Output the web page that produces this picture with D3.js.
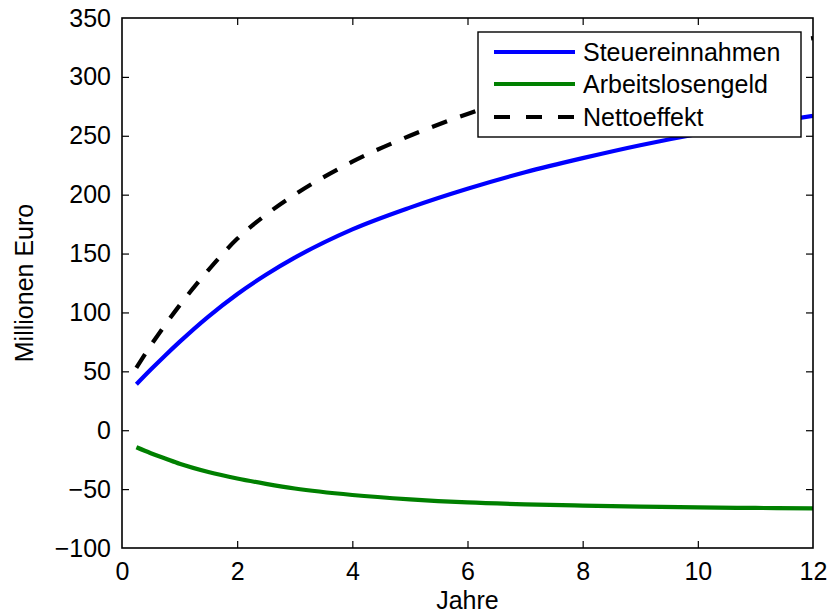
<!DOCTYPE html>
<html>
<head>
<meta charset="utf-8">
<script src="https://cdn.jsdelivr.net/npm/d3@7"></script>
<style>
  html, body { margin: 0; padding: 0; background: #fff; }
  svg text { font-family: "Liberation Sans", Arial, sans-serif; fill: #000; }
</style>
</head>
<body>
<svg id="chart" width="829" height="615"></svg>
<script>
// Years after the measure takes effect
const years = [0.25, 0.5, 0.75, 1, 1.5, 2, 2.5, 3, 4, 5, 6, 7, 8, 9, 10, 11, 12];

// Series in million euro
const steuereinnahmen  = [39, 51.5, 63.5, 75, 96.5, 115.5, 132, 146.5, 170.5, 189, 205, 219, 231, 242, 251.5, 259.5, 267];
const arbeitslosengeld = [-14.5, -19.5, -24, -28.5, -35.5, -41, -45.5, -49.5, -55, -58.7, -61.3, -62.9, -64, -64.8, -65.5, -66, -66.3];
const nettoeffekt      = [53, 72, 89.5, 106, 136, 162.5, 183, 200, 228, 250, 268.5, 283.5, 296.5, 307.5, 317, 325.5, 333];

const seriesNames = ["Steuereinnahmen", "Arbeitslosengeld", "Nettoeffekt"];
const seriesColors = ["#0000ff", "#008000", "#000000"];
const seriesDash = [null, null, "16,14"];

const xTicks = [0, 2, 4, 6, 8, 10, 12];
const yTicks = [-100, -50, 0, 50, 100, 150, 200, 250, 300, 350];
const xLabel = "Jahre";
const yLabel = "Millionen Euro";

const svg = d3.select("#chart");
const margin = { left: 122, top: 18, right: 16, bottom: 67 };
const W = 829, H = 615;
const x0 = margin.left, x1 = W - margin.right;
const y0 = H - margin.bottom, y1 = margin.top;

const x = d3.scaleLinear().domain([0, 12]).range([x0, x1]);
const y = d3.scaleLinear().domain([-100, 350]).range([y0, y1]);

const tickLen = 7;
const fontSize = 25;
const legendFont = 25;

// Axes: ticks point inward on all four sides (boxed frame)
const gBottom = svg.append("g").attr("transform", `translate(0,${y0})`)
  .call(d3.axisBottom(x).tickValues(xTicks).tickSizeInner(-tickLen).tickSizeOuter(0).tickPadding(14)
    .tickFormat(d3.format("d")));
const gTop = svg.append("g").attr("transform", `translate(0,${y1})`)
  .call(d3.axisTop(x).tickValues(xTicks).tickSizeInner(-tickLen).tickSizeOuter(0).tickFormat(""));
const gLeft = svg.append("g").attr("transform", `translate(${x0},0)`)
  .call(d3.axisLeft(y).tickValues(yTicks).tickSizeInner(-tickLen).tickSizeOuter(0).tickPadding(11)
    .tickFormat(d => d < 0 ? "\u2212" + Math.abs(d) : String(d)));
const gRight = svg.append("g").attr("transform", `translate(${x1},0)`)
  .call(d3.axisRight(y).tickValues(yTicks).tickSizeInner(-tickLen).tickSizeOuter(0).tickFormat(""));

[gBottom, gTop, gLeft, gRight].forEach(g => {
  g.select(".domain").remove();
  g.selectAll(".tick line").attr("stroke", "#000").attr("stroke-width", 1.2);
  g.selectAll(".tick text").attr("font-size", fontSize)
    .attr("font-family", "Liberation Sans, Arial, sans-serif").attr("fill", "#000");
});
// drop end ticks that coincide with the frame
gBottom.selectAll(".tick line").filter(d => d === 0 || d === 12).remove();
gTop.selectAll(".tick line").filter(d => d === 0 || d === 12).remove();
gLeft.selectAll(".tick line").filter(d => d === -100 || d === 350).remove();
gRight.selectAll(".tick line").filter(d => d === -100 || d === 350).remove();

// Line drawing, clipped to the plot area
svg.append("clipPath").attr("id", "plotclip")
  .append("rect").attr("x", x0).attr("y", y1).attr("width", x1 - x0).attr("height", y0 - y1);

const line = d3.line().curve(d3.curveMonotoneX)
  .x(d => x(d[0])).y(d => y(d[1]));

const allSeries = [steuereinnahmen, arbeitslosengeld, nettoeffekt];
const gLines = svg.append("g").attr("clip-path", "url(#plotclip)");
allSeries.forEach((vals, i) => {
  const pts = years.map((t, k) => [t, vals[k]]);
  gLines.append("path")
    .attr("d", line(pts))
    .attr("fill", "none")
    .attr("stroke", seriesColors[i])
    .attr("stroke-width", 4.2)
    .attr("stroke-dasharray", seriesDash[i]);
});

// Frame
svg.append("rect")
  .attr("x", x0).attr("y", y1).attr("width", x1 - x0).attr("height", y0 - y1)
  .attr("fill", "none").attr("stroke", "#000").attr("stroke-width", 1.6);

// Axis titles
svg.append("text")
  .attr("x", (x0 + x1) / 2).attr("y", 609)
  .attr("text-anchor", "middle").attr("font-size", fontSize)
  .text(xLabel);
svg.append("text")
  .attr("transform", `translate(33,${(y0 + y1) / 2}) rotate(-90)`)
  .attr("text-anchor", "middle").attr("font-size", fontSize)
  .text(yLabel);

// Legend
const lg = { x: 478, y: 32, w: 323, h: 105 };
const gLegend = svg.append("g");
gLegend.append("rect")
  .attr("x", lg.x).attr("y", lg.y).attr("width", lg.w).attr("height", lg.h)
  .attr("fill", "#fff").attr("stroke", "#000").attr("stroke-width", 1.4);
const rowY = [52, 84, 117];
seriesNames.forEach((name, i) => {
  gLegend.append("line")
    .attr("x1", 494).attr("x2", 575).attr("y1", rowY[i]).attr("y2", rowY[i])
    .attr("stroke", seriesColors[i]).attr("stroke-width", 4.2)
    .attr("stroke-dasharray", seriesDash[i] ? "16,16" : null);
  gLegend.append("text")
    .attr("x", 583).attr("y", rowY[i]).attr("dy", "0.36em")
    .attr("font-size", legendFont)
    .text(name);
});
</script>
</body>
</html>
